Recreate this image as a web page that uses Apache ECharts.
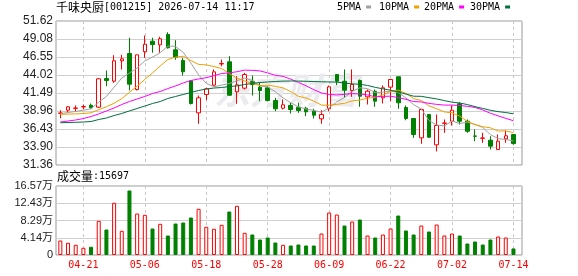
<!DOCTYPE html>
<html><head><meta charset="utf-8">
<script src="https://cdn.jsdelivr.net/npm/echarts@6/dist/echarts.min.js"></script>
<style>html,body{margin:0;padding:0;background:#fff}#c{width:578px;height:276px}</style>
</head><body><div id="c"></div>
<script>
const dates = ['04-16','04-17','04-20','04-21','04-22','04-23','04-24','04-27','04-28','04-29','04-30','05-06','05-07','05-08','05-11','05-12','05-13','05-14','05-15','05-18','05-19','05-20','05-21','05-22','05-25','05-26','05-27','05-28','05-29','06-01','06-02','06-03','06-04','06-05','06-08','06-09','06-10','06-11','06-12','06-15','06-16','06-17','06-18','06-22','06-23','06-24','06-25','06-26','06-29','06-30','07-01','07-02','07-03','07-06','07-07','07-08','07-09','07-10','07-13','07-14'];
const labelDates = ['04-21','05-06','05-18','05-28','06-09','06-22','07-02','07-14'];
const opens  = [38.62,39.07,39.33,39.53,39.77,39.49,43.53,43.15,46.02,47.05,41.98,47.29,48.78,48.27,49.72,47.57,46.06,43.21,38.70,41.28,42.59,45.58,45.88,41.66,42.17,43.15,42.31,42.22,40.43,39.35,39.73,39.49,39.35,38.93,37.86,39.27,44.09,43.15,41.84,43.25,40.95,41.74,40.81,42.31,43.77,39.45,37.90,35.18,38.47,34.20,37.22,37.52,39.97,37.52,35.45,35.12,34.85,33.54,35.04,35.65];
const closes = [38.68,39.55,39.38,39.58,39.40,43.49,43.25,46.02,46.30,42.73,46.86,48.35,48.30,49.12,47.85,46.53,44.47,40.01,40.81,42.08,44.47,45.63,41.18,42.64,44.09,42.69,41.84,40.43,39.27,39.83,39.17,39.03,38.84,38.37,38.47,42.36,43.15,41.89,42.69,41.04,41.74,40.34,42.22,43.39,40.11,37.90,35.65,39.17,35.27,36.92,37.27,39.07,37.52,36.11,35.40,35.16,34.01,34.71,35.47,34.39];
const lows   = [37.94,38.79,38.89,39.17,39.27,39.40,42.45,42.92,44.80,41.84,41.84,46.44,47.15,47.15,47.75,46.16,43.95,39.87,37.16,40.50,42.45,45.26,41.10,39.97,41.98,41.14,40.34,40.34,38.93,39.17,38.60,38.70,38.23,37.90,37.16,38.93,42.60,40.81,40.95,39.55,39.87,39.55,40.01,40.34,39.27,37.66,35.18,34.34,35.20,33.26,35.89,36.92,37.06,35.89,34.71,34.48,33.54,33.50,34.48,34.20];
const highs  = [39.07,39.58,39.73,39.87,40.01,43.55,44.66,46.81,46.86,49.26,46.90,49.58,49.26,49.40,50.04,48.92,46.44,43.25,41.14,42.22,44.80,46.20,46.67,43.85,44.33,43.95,42.92,42.45,40.81,40.58,40.11,40.11,39.55,39.27,39.07,42.55,44.12,44.80,44.80,43.39,41.98,41.98,42.55,43.42,43.80,39.73,37.92,39.27,38.50,38.47,37.76,39.73,40.20,37.76,36.35,35.89,35.41,35.65,36.21,35.68];
const ma5  = [38.56,38.75,38.89,39.07,39.27,40.20,41.00,42.30,43.60,44.30,45.00,46.00,46.55,47.15,48.10,48.04,47.20,45.70,44.05,42.85,42.37,42.60,42.83,43.20,43.60,43.25,42.49,42.34,41.66,40.81,40.11,39.55,39.23,39.05,38.78,39.41,40.24,40.85,41.71,42.23,42.10,41.54,41.61,41.75,41.56,40.79,39.85,39.24,37.62,36.98,36.86,37.54,37.20,37.38,37.07,36.65,35.64,35.07,34.95,34.75];
const ma10 = [38.50,38.52,38.55,38.60,38.70,39.15,39.55,40.05,40.70,41.60,42.45,43.40,44.30,45.30,46.20,46.54,46.66,46.06,45.51,45.44,45.21,44.93,44.22,43.57,43.19,42.81,42.54,42.59,42.43,42.21,41.68,41.02,40.78,40.36,39.79,39.76,39.89,40.04,40.38,40.50,40.76,40.89,41.23,41.73,41.89,41.45,40.70,40.43,39.68,39.27,38.83,38.70,38.23,37.50,37.03,36.75,36.59,36.14,36.16,35.91];
const ma20 = [37.41,37.55,37.69,37.90,38.18,38.54,38.96,39.38,39.87,40.29,40.65,41.00,41.42,41.70,42.12,42.48,42.90,43.25,43.46,43.64,43.93,44.23,44.32,44.48,44.71,44.67,44.60,44.32,43.97,43.83,43.44,42.98,42.50,41.96,41.49,41.28,41.22,41.31,41.41,41.35,41.22,40.95,41.01,41.04,40.84,40.60,40.29,40.23,40.03,39.89,39.79,39.79,39.73,39.61,39.46,39.10,38.64,38.28,37.92,37.59];
const ma30 = [37.30,37.34,37.37,37.41,37.48,37.76,37.97,38.32,38.61,38.97,39.31,39.66,40.01,40.29,40.72,41.00,41.28,41.56,41.84,42.05,42.19,42.26,42.40,42.48,42.69,42.83,42.97,43.04,43.11,43.16,43.18,43.16,43.14,43.10,43.07,43.04,43.03,42.89,42.77,42.72,42.55,42.28,42.08,41.88,41.63,41.34,41.04,41.02,40.83,40.66,40.42,40.20,40.08,39.86,39.57,39.32,39.06,38.87,38.74,38.56];
const volumes = [3.48,2.93,2.45,1.73,1.97,8.21,6.12,12.53,5.81,15.49,9.96,9.65,6.36,7.49,4.68,7.56,7.80,9.00,11.09,6.77,6.29,7.25,10.44,11.81,5.33,4.92,3.72,4.20,3.00,2.45,2.28,2.52,2.28,2.28,5.16,10.20,9.72,7.08,8.04,8.52,4.68,4.20,4.92,6.36,9.48,5.88,4.92,7.08,5.64,7.32,4.68,5.16,4.68,2.76,3.24,2.52,3.72,4.44,4.20,1.57];
const volUp = [1,1,1,1,0,1,0,1,1,0, 1,1,0,1,0,0,0,0,1,1, 1,1,0,1,1,0,0,0,0,1, 0,0,0,0,1,1,1,0,1,0, 1,0,1,1,0,0,0,1,0,1, 1,1,0,0,0,0,0,1,1,0];
const priceTicks = ['31.36','33.90','36.43','38.96','41.49','44.02','46.55','49.08','51.62'];
const volTicks = ['0','4.14万','8.29万','12.43万','16.57万'];
const maNames = ['5PMA','10PMA','20PMA','30PMA'];
const maColors = ['#a0a0a0','#f0a000','#ff00ff','#00703c'];

const RED = '#ff0000', GREEN = '#008000';
const candleData = dates.map((d, i) => [opens[i], closes[i], lows[i], highs[i]]);
const volData = volumes.map((v, i) => ({
  value: v,
  itemStyle: volUp[i] ? {color:'#ffffff', borderColor:RED, borderWidth:1} : {color:GREEN, borderColor:GREEN, borderWidth:1}
}));
const labelSet = new Set(labelDates);
const showAt = (i, v) => labelSet.has(v);
const dashed = {show:true, interval:showAt, alignWithLabel:true, lineStyle:{color:'#c8c8c8', type:[3,3], width:1}};
const gridLine = {show:true, lineStyle:{color:'#d0d0d0', width:1}};
const mono = '"DejaVu Sans Mono"';

const legends = maNames.map((n, i) => ({
  data:[n], left:[337,379,424,470][i], top:2, padding:0, selectedMode:false,
  icon:'rect', itemWidth:5, itemHeight:3, align:'right',
  textStyle:{fontFamily:mono, fontSize:10, color:'#000'}
}));

const chart = echarts.init(document.getElementById('c'), null, {renderer:'canvas'});
chart.setOption({
  animation:false,
  backgroundColor:'#ffffff',
  legend: legends,
  grid:[
    {left:56, top:21, width:466, height:144, show:true, borderColor:'#999', borderWidth:1, backgroundColor:'transparent', outerBoundsMode:'none'},
    {left:56.5, top:21, width:460.8, height:144, outerBoundsMode:'none'},
    {left:56, top:186, width:466, height:69, show:true, borderColor:'#999', borderWidth:1, backgroundColor:'transparent', outerBoundsMode:'none'},
    {left:56.5, top:186, width:460.8, height:69, outerBoundsMode:'none'}
  ],
  xAxis:[
    {type:'value', gridIndex:0, min:0, max:1, show:false},
    {type:'category', gridIndex:1, data:dates, boundaryGap:true, axisLine:{show:false}, axisTick:{show:false}, axisLabel:{show:false}, splitLine:dashed},
    {type:'value', gridIndex:2, min:0, max:1, show:false},
    {type:'category', gridIndex:3, data:dates, boundaryGap:true, axisLine:{show:false}, axisTick:{show:false},
     axisLabel:{show:true, interval:showAt, color:RED, fontFamily:mono, fontSize:10, margin:5}, splitLine:dashed}
  ],
  yAxis:[
    {type:'value', gridIndex:0, min:0, max:8, interval:1, axisLine:{show:false}, axisTick:{show:false},
     axisLabel:{formatter:v => priceTicks[Math.round(v)], color:'#222', fontFamily:'"Liberation Sans"', fontSize:12, margin:3}, splitLine:gridLine},
    {type:'value', gridIndex:1, min:31.36, max:51.62, show:false},
    {type:'value', gridIndex:2, min:0, max:4, interval:1, axisLine:{show:false}, axisTick:{show:false},
     axisLabel:{formatter:v => volTicks[Math.round(v)], color:'#222', fontFamily:'"Liberation Sans", "Noto Sans CJK SC"', fontSize:11, margin:3}, splitLine:gridLine},
    {type:'value', gridIndex:3, min:0, max:16.57, show:false}
  ],
  graphic:[
    {type:'text', left:56, top:1, z:10, style:{text:'{a|千味央厨}{b|[001215] 2026-07-14 11:17}',
      rich:{a:{fontSize:12, fontFamily:'"Noto Sans CJK SC"', fill:'#000'}, b:{fontSize:10, fontFamily:mono, fill:'#000'}}}},
    {type:'text', left:57, top:170, z:10, style:{text:'{a|成交量}{b|:15697}',
      rich:{a:{fontSize:12, fontFamily:'"Noto Sans CJK SC"', fill:'#000'}, b:{fontSize:10, fontFamily:mono, fill:'#000'}}}},
    {type:'text', left:214, top:72, z:1, style:{text:'东方财富', font:'italic bold 36px "Noto Sans CJK SC"', fill:'#ebebef'}}
  ],
  series:[
    {type:'candlestick', name:'K', xAxisIndex:1, yAxisIndex:1, data:candleData, barWidth:4,
     itemStyle:{color:'#ffffff', color0:GREEN, borderColor:RED, borderColor0:GREEN, borderWidth:1}},
    ...maNames.map((n, i) => ({
      type:'line', name:n, xAxisIndex:1, yAxisIndex:1, data:[ma5,ma10,ma20,ma30][i],
      symbol:'none', smooth:false, color:maColors[i],
      lineStyle:{color:maColors[i], width:1}, itemStyle:{color:maColors[i]}
    })),
    {type:'bar', name:'VOL', xAxisIndex:3, yAxisIndex:3, data:volData, barWidth:4}
  ]
});
</script>
</body></html>
